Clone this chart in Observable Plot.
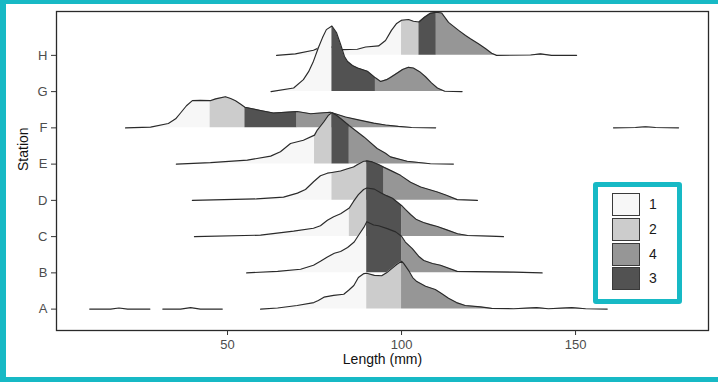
<!DOCTYPE html>
<html>
<head>
<meta charset="utf-8">
<script src="https://cdn.jsdelivr.net/npm/d3@7"></script>
<script src="https://cdn.jsdelivr.net/npm/@observablehq/plot@0.6"></script>
<style>
  html, body { margin: 0; padding: 0; background: #fff; }
  #wrap { position: relative; width: 718px; height: 382px; overflow: hidden; font-family: "Liberation Sans", Arial, sans-serif; }
  .teal { position: absolute; background: #17b9c5; }
  #legend { position: absolute; left: 593px; top: 182px; width: 89px; height: 122px; box-sizing: border-box;
            border: 5px solid #17b9c5; border-radius: 3px; background: #fff; }
  .key { position: absolute; left: 14px; width: 28px; height: 23px; box-sizing: border-box; border: 1.5px solid #3a3a3a; }
  .lab { position: absolute; left: 51px; font-size: 14px; color: #1a1a1a; line-height: 23px; }
</style>
</head>
<body>
<div id="wrap"></div>
<script>
// Stations (bottom to top) and legend
const stations = ["A", "B", "C", "D", "E", "F", "G", "H"];
const legendLabels = ["1", "2", "4", "3"];
const legendGreys = ["#f7f7f7", "#cccccc", "#969696", "#525252"];
const xTicks = [50, 100, 150];
const xTitle = "Length (mm)";
const yTitle = "Station";

// Quartile boundaries per station (A..H), in mm
const Q1 = [90, 90, 85, 80, 75, 45, 80, 100];
const Q2 = [100, 90, 90, 90, 80, 55, 80, 105];
const Q3 = [100, 100, 100, 95, 85, 70, 92.5, 110];

// Density profiles (length in mm, scaled density; null = gap)
const A_len  = [10.4,16.4,18.8,21.3,27.7,29.5,31.4,36.5,39.4,42.2,48.5,54.0,59.5,64.4,70.0,74.8,76.1,77.7,80.5,83.4,84.8,86.3,87.6,89.2,90.0,92.2,94.3,95.7,97.1,98.6,100.0,100.6,102.0,103.2,104.4,106.9,109.7,111.5,113.5,115.8,118.3,122.7,125.9,132.2,138.8,142.2,148.9,152.9,159.1];
const A_dens = [0,0,0.03,0,0,null,0,0,0.04,0,0,null,0,0.03,0.10,0.18,0.24,0.33,0.38,0.41,0.52,0.65,0.87,0.98,0.99,0.93,0.92,1.00,1.11,1.23,1.32,1.26,1.07,0.87,0.76,0.63,0.54,0.43,0.30,0.18,0.10,0.06,0.02,0.01,0.04,0.01,0.04,0.01,0];

const B_len  = [55.5,64.4,71.0,74.7,76.7,78.7,80.7,82.5,84.5,86.4,87.6,89.2,90.0,92.0,93.4,95.9,98.3,100.0,101.1,103.1,104.9,106.4,108.9,111.2,116.0,132.2,140.4];
const B_dens = [0,0.04,0.10,0.21,0.32,0.44,0.54,0.59,0.70,0.85,1.03,1.26,1.41,1.32,1.30,1.22,1.13,1.01,0.85,0.67,0.46,0.34,0.26,0.21,0.04,0.02,0];

const C_len  = [40.5,59.5,69.0,74.7,76.7,78.7,80.5,82.5,85.0,86.2,87.6,89.1,90.0,92.2,94.0,95.7,97.4,100.0,101.1,102.6,104.3,106.3,108.3,110.3,113.2,116.1,119.0,129.3];
const C_dens = [0,0.04,0.15,0.23,0.30,0.45,0.55,0.63,0.79,0.97,1.16,1.30,1.34,1.31,1.21,1.13,1.06,0.86,0.75,0.61,0.47,0.39,0.33,0.28,0.18,0.08,0.03,0];

const D_len  = [39.9,58.3,66.1,70.1,72.4,74.8,76.7,78.7,80.0,82.5,84.5,86.2,87.4,89.1,90.0,91.6,93.4,95.0,97.4,99.7,102.6,105.5,110.3,112.9,116.0,121.8];
const D_dens = [0,0.04,0.09,0.20,0.30,0.52,0.68,0.75,0.77,0.81,0.87,0.92,0.99,1.08,1.09,1.06,0.99,0.91,0.80,0.69,0.50,0.37,0.23,0.14,0.02,0];

const E_len  = [35.3,45.1,55.7,62.4,65.2,68.1,71.8,75.0,75.8,77.7,79.0,80.0,81.3,82.5,85.0,89.2,93.0,95.4,96.8,101.6,108.3,114.9];
const E_dens = [0,0.04,0.11,0.22,0.34,0.57,0.66,0.80,0.94,1.17,1.35,1.42,1.35,1.26,1.06,0.75,0.43,0.30,0.20,0.08,0.01,0];

const F_len  = [20.7,27.9,33.0,35.1,36.5,38.2,39.9,42.2,45.0,46.6,49.4,50.9,52.3,53.7,55.0,59.5,63.2,66.7,70.0,73.9,76.7,79.6,83.9,87.6,92.0,95.4,99.1,102.9,109.8,135.0,160.9,167.2,170.1,173.0,179.6];
const F_dens = [0,0.02,0.12,0.25,0.41,0.61,0.75,0.76,0.75,0.80,0.86,0.81,0.75,0.66,0.57,0.48,0.41,0.43,0.45,0.39,0.41,0.43,0.30,0.22,0.13,0.08,0.04,0.01,0,null,0,0.01,0.03,0.01,0];

const G_len  = [62.5,69.0,71.8,73.3,74.7,76.1,77.3,78.4,80.0,81.3,82.5,83.6,84.5,85.9,87.4,90.2,92.5,94.0,95.7,96.8,98.9,100.3,102.0,103.4,105.2,106.9,108.6,110.3,112.4,117.4];
const G_dens = [0,0.10,0.33,0.55,0.84,1.21,1.49,1.71,1.81,1.63,1.30,0.97,0.83,0.72,0.65,0.56,0.38,0.28,0.33,0.39,0.52,0.61,0.67,0.65,0.55,0.41,0.24,0.10,0.01,0];

const H_len  = [64.1,69.5,74.7,76.1,78.2,80.5,83.0,87.3,89.7,93.4,95.4,97.1,98.6,100.0,102.0,103.4,105.0,106.6,108.3,110.0,111.5,113.5,116.4,118.4,119.8,122.1,124.1,125.9,127.3,137.1,139.9,143.1,150.3];
const H_dens = [0,0.04,0.14,0.20,0.25,0.22,0.16,0.17,0.23,0.26,0.41,0.69,0.88,0.97,0.99,0.94,0.92,1.05,1.16,1.19,1.17,0.91,0.69,0.55,0.46,0.32,0.19,0.06,0,0.01,0.04,0,0];

const profiles = {
  A: [A_len, A_dens], B: [B_len, B_dens], C: [C_len, C_dens], D: [D_len, D_dens],
  E: [E_len, E_dens], F: [F_len, F_dens], G: [G_len, G_dens], H: [H_len, H_dens]
};

// Build marks: draw from top (H) down to bottom (A) so lower ridges overlap
const ridgeMarks = [];
for (let i = stations.length - 1; i >= 0; --i) {
  const s = stations[i];
  const [L, Dn] = profiles[s];
  const pts = L.map((x, j) => ({x, d: Dn[j]}));
  const bounds = [-Infinity, Q1[i], Q2[i], Q3[i], Infinity];
  const segRows = [];
  for (let k = 0; k < 4; ++k) {
    const lo = bounds[k], hi = bounds[k + 1];
    const q = String(k + 1);
    for (const p of pts) {
      if (p.x >= lo && p.x <= hi) {
        segRows.push({x: p.x, y1: i, y2: p.d == null ? NaN : i + p.d, q, seg: s + q});
      }
    }
  }
  ridgeMarks.push(Plot.areaY(segRows, {x: "x", y1: "y1", y2: "y2", fill: "q", z: "seg"}));
  ridgeMarks.push(Plot.line(pts, {x: "x", y: p => p.d == null ? NaN : i + p.d, stroke: "#2a2a2a", strokeWidth: 1.15}));
}

const chart = Plot.plot({
  width: 718,
  height: 382,
  marginLeft: 56,
  marginRight: 10,
  marginTop: 11,
  marginBottom: 52,
  style: {fontFamily: "'Liberation Sans', Arial, sans-serif", background: "transparent", overflow: "visible"},
  x: {domain: [0.86, 188.2]},
  y: {domain: [-0.59, 8.21]},
  color: {domain: legendLabels, range: legendGreys},
  marks: [
    ...ridgeMarks,
    Plot.frame({stroke: "#2a2a2a", strokeWidth: 1.3}),
    Plot.axisX({ticks: xTicks, tickSize: 5, tickPadding: 4, fontSize: 13, fill: "#4d4d4d", stroke: "#333", label: null}),
    Plot.axisY({ticks: stations.map((_, i) => i), tickFormat: i => stations[i], tickSize: 5, tickPadding: 4, fontSize: 13, fill: "#4d4d4d", stroke: "#333", label: null}),
    Plot.text([xTitle], {text: d => d, frameAnchor: "bottom", dy: 33, fontSize: 14, fill: "#111"}),
    Plot.text([yTitle], {text: d => d, frameAnchor: "left", dx: -33, rotate: -90, fontSize: 14, fill: "#111"})
  ]
});

const wrap = document.getElementById("wrap");
wrap.appendChild(chart);

// Legend (inside panel, bottom right)
const legend = document.createElement("div");
legend.id = "legend";
legendLabels.forEach((lab, k) => {
  const top = 6 + k * 24.8;
  const key = document.createElement("div");
  key.className = "key";
  key.style.top = top + "px";
  key.style.background = legendGreys[k];
  legend.appendChild(key);
  const t = document.createElement("div");
  t.className = "lab";
  t.style.top = top + "px";
  t.textContent = lab;
  legend.appendChild(t);
});
wrap.appendChild(legend);

// Teal frame around the picture
[["0px","0px","718px","4px"],["0px","0px","6px","382px"],["0px","377px","718px","5px"]].forEach(([l,t,w,h]) => {
  const b = document.createElement("div");
  b.className = "teal";
  Object.assign(b.style, {left: l, top: t, width: w, height: h});
  wrap.appendChild(b);
});
</script>
</body>
</html>
